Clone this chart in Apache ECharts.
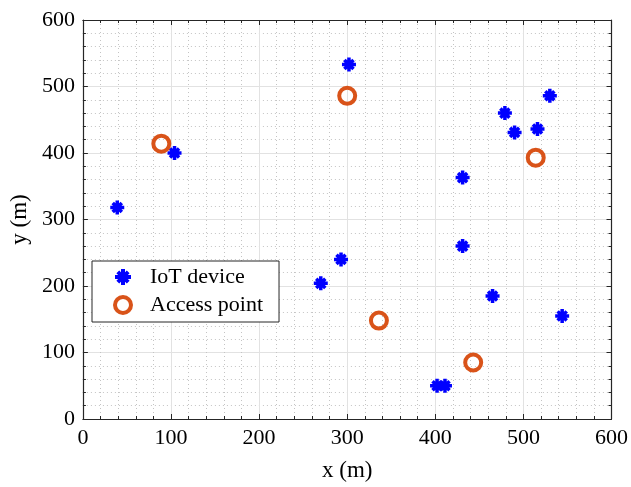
<!DOCTYPE html>
<html>
<head>
<meta charset="utf-8">
<script src="https://cdn.jsdelivr.net/npm/echarts@6/dist/echarts.min.js"></script>
<style>
  html, body { margin: 0; padding: 0; background: #fff; }
  #chart { width: 631px; height: 487px; }
</style>
</head>
<body>
<div id="chart"></div>
<script>
// Device and access-point positions (metres)
const iotX = [39, 104, 302, 270, 293, 431, 431, 465, 479, 490, 516, 530, 544, 402, 411];
const iotY = [318, 400, 533, 204, 240, 260, 363, 185, 460, 431, 436, 486, 155, 50, 50];
const apX = [89, 300, 514, 336, 443];
const apY = [414, 486, 393, 148, 85];
const seriesNames = ['IoT device', 'Access point'];
const axisTicks = [0, 100, 200, 300, 400, 500, 600];

const FONT = '"Liberation Serif", "DejaVu Serif", serif';
const INK = '#262626';

// Filled asterisk: horizontal, vertical and two diagonal bars (same winding)
const STAR = 'path://M-10,-2.5L10,-2.5L10,2.5L-10,2.5Z' +
  'M-2.5,-10L2.5,-10L2.5,10L-2.5,10Z' +
  'M-4.73,-8.27L8.27,4.73L4.73,8.27L-8.27,-4.73Z' +
  'M-8.27,4.73L4.73,-8.27L8.27,-4.73L-4.73,8.27Z';

const pairs = (xs, ys) => xs.map((x, i) => [x, ys[i]]);

const baseAxis = {
  type: 'value',
  min: axisTicks[0],
  max: axisTicks[axisTicks.length - 1],
  interval: axisTicks[1] - axisTicks[0]
};

function mainAxis(extra) {
  return Object.assign({}, baseAxis, {
    axisLine: { show: true, onZero: false, lineStyle: { color: INK, width: 1.2 } },
    axisTick: { show: true, inside: true, length: 5, lineStyle: { color: INK } },
    minorTick: { show: true, splitNumber: 5, length: 3, lineStyle: { color: INK } },
    axisLabel: { color: '#000', fontFamily: FONT, fontSize: 22 },
    splitLine: { show: true, lineStyle: { color: '#e2e2e2', width: 1 } },
    minorSplitLine: { show: true, lineStyle: { color: '#c4c4c4', width: 1, type: [1, 3] } },
    nameLocation: 'middle',
    nameTextStyle: { color: '#000', fontFamily: FONT, fontSize: 23 }
  }, extra);
}

// Box edges on the top and right, ticks only
function mirrorAxis(extra) {
  return Object.assign({}, baseAxis, {
    axisLine: { show: true, onZero: false, lineStyle: { color: INK, width: 1.2 } },
    axisTick: { show: true, inside: true, length: 5, lineStyle: { color: INK } },
    minorTick: { show: true, splitNumber: 5, length: 3, lineStyle: { color: INK } },
    axisLabel: { show: false },
    splitLine: { show: false },
    minorSplitLine: { show: false }
  }, extra);
}

const chart = echarts.init(document.getElementById('chart'), null, { renderer: 'canvas' });
chart.setOption({
  animation: false,
  backgroundColor: '#fff',
  grid: { left: 82, right: 19, top: 20, bottom: 60.5 },
  xAxis: [
    mainAxis({ position: 'bottom', name: 'x (m)', nameGap: 40 }),
    mirrorAxis({ position: 'top' })
  ],
  yAxis: [
    mainAxis({ position: 'left', name: 'y (m)', nameGap: 50, axisLabel: { color: '#000', fontFamily: FONT, fontSize: 22, margin: 8 } }),
    mirrorAxis({ position: 'right' })
  ],
  legend: {
    orient: 'vertical',
    left: 92,
    top: 261,
    itemWidth: 16,
    itemHeight: 16,
    itemGap: 6,
    padding: [5, 16, 6, 21],
    backgroundColor: '#fff',
    borderColor: INK,
    borderWidth: 1,
    borderRadius: 0,
    textStyle: { color: '#000', fontFamily: FONT, fontSize: 22, padding: [0, 0, 0, 14] },
    data: [
      { name: seriesNames[0] },
      { name: seriesNames[1], itemStyle: { borderWidth: 4 } }
    ]
  },
  series: [
    {
      name: seriesNames[0],
      type: 'scatter',
      data: pairs(iotX, iotY),
      symbol: STAR,
      symbolSize: 14,
      symbolKeepAspect: true,
      itemStyle: { color: '#0000ff', opacity: 1 },
      z: 3
    },
    {
      name: seriesNames[1],
      type: 'scatter',
      data: pairs(apX, apY),
      symbol: 'circle',
      symbolSize: 16,
      itemStyle: { color: 'rgba(255,255,255,0)', borderColor: '#d95319', borderWidth: 4, opacity: 1 },
      z: 4
    }
  ]
});
</script>
</body>
</html>
